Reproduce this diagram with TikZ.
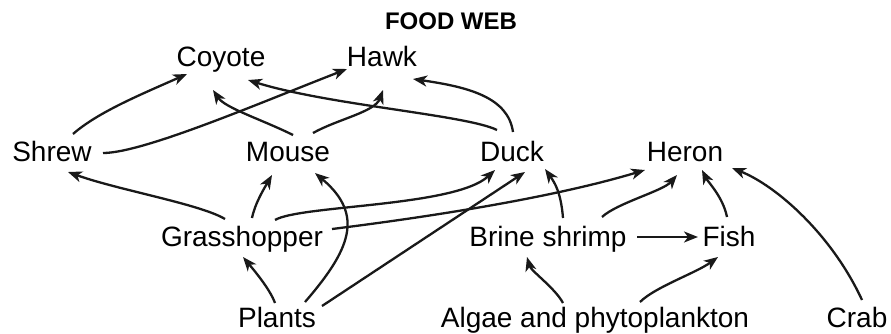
\documentclass[tikz,border=0pt]{standalone}
\usepackage{fontspec}
\setmainfont{Liberation Sans}
\usetikzlibrary{arrows.meta}
\begin{document}
\begin{tikzpicture}[x=1pt,y=-1pt,
  lbl/.style={anchor=base,inner sep=0pt,font=\fontsize{28}{30}\selectfont},
  ttl/.style={anchor=base,inner sep=0pt,font=\bfseries\fontsize{24}{26}\selectfont},
  arr/.style={line width=2.3pt,color=black!90,-{Stealth[length=14pt,width=11pt,inset=4pt]}}]
\useasboundingbox (0,0) rectangle (891,333);
\node[ttl] (title) at (451,29) {FOOD WEB};
\node[lbl] (coyote) at (221,66) {Coyote};
\node[lbl] (hawk) at (382,66) {Hawk};
\node[lbl] (shrew) at (52,161) {Shrew};
\node[lbl] (mouse) at (288,161) {Mouse};
\node[lbl] (duck) at (512,161) {Duck};
\node[lbl] (heron) at (685,161) {Heron};
\node[lbl] (grass) at (242,246) {Grasshopper};
\node[lbl] (brine) at (548,246) {Brine shrimp};
\node[lbl] (fish) at (729,246) {Fish};
\node[lbl] (plants) at (277,327) {Plants};
\node[lbl] (algae) at (595,327) {Algae and phytoplankton};
\node[lbl] (crab) at (857,327) {Crab};
% to Coyote / Hawk
\draw[arr] ([shift={(21,-27)}]shrew.base) .. controls +(25,-22) and +(-45,20) .. ([shift={(-34,8)}]coyote.base);
\draw[arr] ([shift={(51,-8)}]shrew.base) .. controls +(40,0) and +(-90,35) .. ([shift={(-35,3)}]hawk.base);
\draw[arr] ([shift={(5,-26)}]mouse.base) .. controls +(-30,-15) and +(12,18) .. ([shift={(-8,24)}]coyote.base);
\draw[arr] ([shift={(25,-28)}]mouse.base) .. controls +(25,-14) and +(-8,22) .. ([shift={(1,24)}]hawk.base);
\draw[arr] ([shift={(-15,-31)}]duck.base) .. controls +(-30,-15) and +(80,25) .. ([shift={(27,14)}]coyote.base);
\draw[arr] ([shift={(1,-29)}]duck.base) .. controls +(-5,-35) and +(55,8) .. ([shift={(31,13)}]hawk.base);
% from Grasshopper / Plants
\draw[arr] ([shift={(-17,-27)}]grass.base) .. controls +(-25,-15) and +(50,18) .. ([shift={(16,11)}]shrew.base);
\draw[arr] ([shift={(10,-28)}]grass.base) .. controls +(3,-15) and +(-7,12) .. ([shift={(-16,14)}]mouse.base);
\draw[arr] ([shift={(28,-25)}]plants.base) .. controls +(45,-52) and +(50,42) .. ([shift={(27,12)}]mouse.base);
\draw[arr] ([shift={(33,-26)}]grass.base) .. controls +(25,-15) and +(-40,37) .. ([shift={(-17,9)}]duck.base);
\draw[arr] ([shift={(90,-17)}]grass.base) .. controls +(80,-10) and +(-100,30) .. ([shift={(-40,9)}]heron.base);
\draw[arr] ([shift={(45,-21)}]plants.base) -- ([shift={(13,11)}]duck.base);
\draw[arr] ([shift={(-2,-24)}]plants.base) .. controls +(-5,-14) and +(10,12) .. ([shift={(1,11)}]grass.base);
% aquatic
\draw[arr] ([shift={(15,-28)}]brine.base) .. controls +(-2,-25) and +(10,14) .. ([shift={(33,8)}]duck.base);
\draw[arr] ([shift={(54,-29)}]brine.base) .. controls +(15,-14) and +(-14,16) .. ([shift={(-8,14)}]heron.base);
\draw[arr] ([shift={(-2,-29)}]fish.base) .. controls +(-4,-20) and +(6,12) .. ([shift={(17,9)}]heron.base);
\draw[arr] ([shift={(5,-27)}]crab.base) .. controls +(-30,-65) and +(45,18) .. ([shift={(47,7)}]heron.base);
\draw[arr] ([shift={(89,-9)}]brine.base) -- ([shift={(-31,-9)}]fish.base);
\draw[arr] ([shift={(-32,-24)}]algae.base) .. controls +(-8,-15) and +(4,14) .. ([shift={(-21,11)}]brine.base);
\draw[arr] ([shift={(45,-25)}]algae.base) .. controls +(15,-15) and +(-22,16) .. ([shift={(-11,11)}]fish.base);
\end{tikzpicture}
\end{document}
